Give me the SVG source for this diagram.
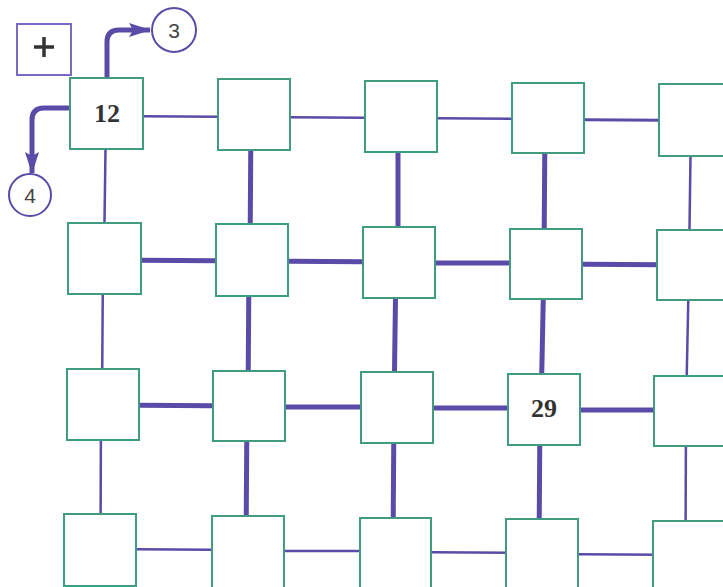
<svg xmlns="http://www.w3.org/2000/svg" width="723" height="587" viewBox="0 0 723 587">
<defs>
<style>
.box{fill:#fff;stroke:#3f9c80;stroke-width:2}
.thin{stroke:#5b4aa8;stroke-width:2.5;fill:none}
.thick{stroke:#5b4aa8;stroke-width:5;fill:none}
.arr{stroke:#5b4aa8;stroke-width:5;fill:none;stroke-linecap:butt}
.circ{fill:#fff;stroke:#5b4aa8;stroke-width:2}
.num{font-family:"Liberation Serif",serif;font-weight:bold;font-size:26px;fill:#333;text-anchor:middle}
.lbl{font-family:"Liberation Sans",sans-serif;font-size:21px;fill:#444;text-anchor:middle}
</style>
<marker id="ah" markerWidth="22" markerHeight="14" refX="21" refY="7" orient="auto" markerUnits="userSpaceOnUse">
<path d="M0,0 L22,7 L0,14 L4,7 Z" fill="#5b4aa8"/>
</marker>
</defs>
<rect width="723" height="587" fill="#fff"/>
<g id="connectors">
<line class="thin" x1="106" y1="116" x2="254" y2="117"/>
<line class="thin" x1="254" y1="117" x2="401" y2="118"/>
<line class="thin" x1="401" y1="118" x2="548" y2="119"/>
<line class="thin" x1="548" y1="119.5" x2="700" y2="120.5" style="stroke-width:3"/>
<line class="thick" x1="104" y1="260" x2="252" y2="261"/>
<line class="thick" x1="252" y1="261" x2="399" y2="262"/>
<line class="thick" x1="399" y1="263" x2="546" y2="263"/>
<line class="thick" x1="546" y1="264" x2="700" y2="265"/>
<line class="thick" x1="103" y1="405" x2="249" y2="406"/>
<line class="thick" x1="249" y1="407" x2="397" y2="407"/>
<line class="thick" x1="397" y1="408" x2="544" y2="408"/>
<line class="thick" x1="544" y1="410" x2="700" y2="410"/>
<line class="thin" x1="100" y1="549" x2="248" y2="550"/>
<line class="thin" x1="248" y1="551" x2="395" y2="551"/>
<line class="thin" x1="395" y1="552" x2="542" y2="553"/>
<line class="thin" x1="542" y1="554" x2="700" y2="555"/>
<line class="thin" x1="106" y1="113" x2="104" y2="258"/>
<line class="thin" x1="103" y1="258" x2="102" y2="404"/>
<line class="thin" x1="101" y1="404" x2="100.5" y2="550"/>
<line class="thick" x1="251" y1="114" x2="250" y2="260"/>
<line class="thick" x1="249" y1="260" x2="248" y2="406"/>
<line class="thick" x1="247" y1="406" x2="246" y2="551"/>
<line class="thick" x1="398" y1="116" x2="398" y2="262"/>
<line class="thick" x1="396" y1="262" x2="394" y2="407"/>
<line class="thick" x1="394" y1="407" x2="393" y2="552"/>
<line class="thick" x1="545" y1="118" x2="544" y2="264"/>
<line class="thick" x1="544" y1="264" x2="541" y2="409"/>
<line class="thick" x1="540" y1="409" x2="539" y2="554"/>
<line class="thin" x1="691" y1="120" x2="689" y2="265"/>
<line class="thin" x1="689" y1="265" x2="686" y2="411"/>
<line class="thin" x1="686" y1="411" x2="685.5" y2="556"/>
<path class="arr" d="M107,78 V42 Q107,30 119,30 H150" marker-end="url(#ah)"/>
<path class="arr" d="M70,108 H44 Q32,108 32,120 V173" marker-end="url(#ah)"/>
</g>
<g id="plus">
<rect x="17" y="24" width="54" height="51" fill="#fff" stroke="#7a68c4" stroke-width="2"/>
<line x1="34" y1="47" x2="54" y2="47" stroke="#333" stroke-width="3.5"/>
<line x1="44" y1="37" x2="44" y2="57" stroke="#333" stroke-width="3.5"/>
</g>
<g id="circle3"><circle class="circ" cx="174" cy="30" r="22"/><text class="lbl" x="174" y="38">3</text></g>
<g id="circle4"><circle class="circ" cx="30" cy="195" r="21"/><text class="lbl" x="30" y="203">4</text></g>
<g id="r1c1"><rect class="box" x="70" y="78" width="73" height="71"/><text class="num" x="107" y="122">12</text></g>
<g id="r1c2"><rect class="box" x="218" y="79" width="72" height="71"/></g>
<g id="r1c3"><rect class="box" x="365" y="81" width="72" height="71"/></g>
<g id="r1c4"><rect class="box" x="512" y="83" width="72" height="70"/></g>
<g id="r1c5"><rect class="box" x="659" y="84" width="72" height="72"/></g>
<g id="r2c1"><rect class="box" x="68" y="223" width="73" height="71"/></g>
<g id="r2c2"><rect class="box" x="216" y="224" width="72" height="72"/></g>
<g id="r2c3"><rect class="box" x="363" y="227" width="72" height="71"/></g>
<g id="r2c4"><rect class="box" x="510" y="229" width="72" height="70"/></g>
<g id="r2c5"><rect class="box" x="657" y="230" width="72" height="70"/></g>
<g id="r3c1"><rect class="box" x="67" y="369" width="72" height="71"/></g>
<g id="r3c2"><rect class="box" x="213" y="371" width="72" height="70"/></g>
<g id="r3c3"><rect class="box" x="361" y="372" width="72" height="71"/></g>
<g id="r3c4"><rect class="box" x="508" y="374" width="72" height="71"/><text class="num" x="544" y="417">29</text></g>
<g id="r3c5"><rect class="box" x="654" y="376" width="72" height="70"/></g>
<g id="r4c1"><rect class="box" x="64" y="514" width="72" height="72"/></g>
<g id="r4c2"><rect class="box" x="212" y="516" width="72" height="72"/></g>
<g id="r4c3"><rect class="box" x="360" y="518" width="71" height="72"/></g>
<g id="r4c4"><rect class="box" x="506" y="519" width="72" height="72"/></g>
<g id="r4c5"><rect class="box" x="653" y="521" width="72" height="72"/></g>
</svg>
